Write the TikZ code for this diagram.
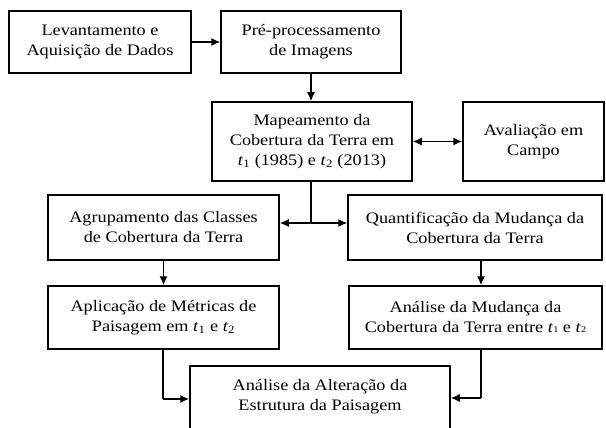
\documentclass[tikz,border=0pt]{standalone}
\usepackage{fontspec}
\setmainfont[FakeStretch=1.14]{Liberation Serif}
\usetikzlibrary{arrows.meta,calc}
\begin{document}
\begin{tikzpicture}[x=1pt,y=-1pt,
  box/.style={draw, line width=1.5pt, align=center, inner sep=0pt,
    font=\fontsize{16}{20}\selectfont},
  tip/.tip={Latex[length=9pt,width=8pt]},
  arr/.style={line width=1.4pt, -tip},
  ln/.style={line width=1.4pt}]
\useasboundingbox (0,0) rectangle (606,428);
\clip (0,0) rectangle (606,428);
\node[box, minimum width=182pt, minimum height=62pt] (b1) at (100,42) {Levantamento e\\Aquisição de Dados};
\node[box, minimum width=180pt, minimum height=62pt] (b2) at (311,42) {Pré-processamento\\de Imagens};
\node[box, minimum width=200pt, minimum height=79pt] (b3) at (312,141.5) {Mapeamento da\\Cobertura da Terra em\\\textit{t}\textsubscript{1} (1985) e \textit{t}\textsubscript{2} (2013)};
\node[box, minimum width=141pt, minimum height=79pt] (b4) at (533.5,141.5) {Avaliação em\\Campo};
\node[box, minimum width=231pt, minimum height=65pt] (b5) at (163.5,227.5) {Agrupamento das Classes\\de Cobertura da Terra};
\node[box, minimum width=254pt, minimum height=65pt] (b6) at (475,227.5) {Quantificação da Mudança da\\Cobertura da Terra};
\node[box, minimum width=231pt, minimum height=63pt] (b7) at (163.5,317.5) {Aplicação de Métricas de\\Paisagem em \textit{t}\textsubscript{1} e \textit{t}\textsubscript{2}};
\node[box, minimum width=253pt, minimum height=63pt] (b8) at (475.5,317.5) {Análise da Mudança da\\Cobertura da Terra entre \textit{t}{\small 1} e \textit{t}{\small 2}};
\node[box, minimum width=260pt, minimum height=80pt, text depth=22pt] (b9) at (320,406) {Análise da Alteração da\\Estrutura da Paisagem};
% connectors
\draw[arr] (b1.east) -- (b2.west);
\draw[arr] (b2.south) -- (b2.south |- b3.north);
\draw[ln, tip-tip] (b3.east) -- (b4.west);
\coordinate (j) at (311,223);
\draw[ln] (b3.south -| j) -- (j);
\draw[arr] (j) -- (b5.east |- j);
\draw[arr] (j) -- (b6.west |- j);
\coordinate (c6) at (481,0);
\draw[arr] (b6.south -| c6) -- (b8.north -| c6);
\draw[arr] (b5.south) -- (b7.north);
\coordinate (k7) at (163,399);
\coordinate (k8) at (481,398);
\draw[ln] (b7.south -| k7) -- (k7);
\draw[arr] (k7) -- (b9.west |- k7);
\draw[ln] (b8.south -| k8) -- (k8);
\draw[arr] (k8) -- (b9.east |- k8);
\end{tikzpicture}
\end{document}
